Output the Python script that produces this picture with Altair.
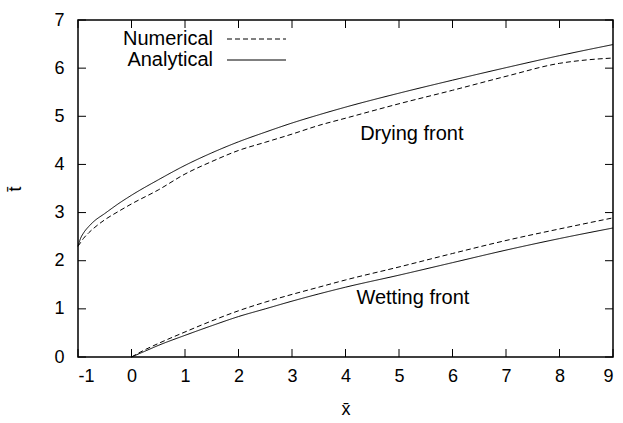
import altair as alt
import pandas as pd

# Drying front: analytical vs numerical
dry_x_ana = [-1, -0.95, -0.9, -0.8, -0.7, -0.5, -0.25, 0, 0.5, 1, 1.5, 2, 2.5, 3, 3.5, 4, 5, 6, 7, 8, 9]
dry_t_ana = [2.30, 2.47, 2.57, 2.71, 2.82, 2.98, 3.18, 3.36, 3.68, 3.98, 4.24, 4.47, 4.67, 4.86, 5.03, 5.19, 5.48, 5.75, 6.01, 6.26, 6.49]
dry_x_num = [-1, -0.95, -0.9, -0.8, -0.7, -0.5, -0.25, 0, 0.5, 1, 1.5, 2, 2.5, 3, 3.5, 4, 5, 6, 7, 8, 8.5, 9]
dry_t_num = [2.30, 2.38, 2.46, 2.58, 2.68, 2.85, 3.02, 3.18, 3.47, 3.80, 4.06, 4.29, 4.46, 4.63, 4.81, 4.96, 5.26, 5.54, 5.83, 6.10, 6.17, 6.21]

# Wetting front: analytical vs numerical
wet_x = [0, 0.25, 0.5, 1, 1.5, 2, 2.5, 3, 3.5, 4, 5, 6, 7, 8, 9]
wet_t_ana = [0, 0.12, 0.24, 0.45, 0.65, 0.84, 1.00, 1.16, 1.31, 1.45, 1.70, 1.96, 2.22, 2.46, 2.68]
wet_t_num = [0, 0.15, 0.28, 0.52, 0.75, 0.96, 1.14, 1.30, 1.45, 1.60, 1.87, 2.15, 2.42, 2.66, 2.89]

x_ticks = [-1, 0, 1, 2, 3, 4, 5, 6, 7, 8, 9]
y_ticks = [0, 1, 2, 3, 4, 5, 6, 7]

annotations = ["Drying front", "Wetting front"]
ann_x = [5.24, 5.26]
ann_t = [4.64, 1.22]

legend_labels = ["Numerical", "Analytical"]
legend_dash = [[5, 3], [1, 0]]

FONT = "Liberation Sans"
TICK_FS = 18
TEXT_FS = 20
W, H = 535, 337

rows = []
for x, t in zip(dry_x_ana, dry_t_ana):
    rows.append({"x": x, "t": t, "curve": "dry_ana", "kind": "Analytical"})
for x, t in zip(dry_x_num, dry_t_num):
    rows.append({"x": x, "t": t, "curve": "dry_num", "kind": "Numerical"})
for x, t in zip(wet_x, wet_t_ana):
    rows.append({"x": x, "t": t, "curve": "wet_ana", "kind": "Analytical"})
for x, t in zip(wet_x, wet_t_num):
    rows.append({"x": x, "t": t, "curve": "wet_num", "kind": "Numerical"})
df = pd.DataFrame(rows)

xs = alt.Scale(domain=[-1, 9], nice=False, zero=False)
ys = alt.Scale(domain=[0, 7], nice=False, zero=False)

x_enc = alt.X("x:Q", scale=xs, axis=alt.Axis(
    values=x_ticks, ticks=False, domain=False, grid=False, labelFontSize=TICK_FS,
    labelFont=FONT, labelColor="black", labelPadding=10,
    labelExpr="'' + datum.value",
    title="x̄", titleFont=FONT, titleFontSize=TICK_FS, titleFontWeight="normal",
    titleColor="black", titlePadding=15))
y_enc = alt.Y("t:Q", scale=ys, axis=alt.Axis(
    values=y_ticks, ticks=False, domain=False, grid=False, labelFontSize=TICK_FS,
    labelFont=FONT, labelColor="black", labelPadding=14,
    labelExpr="'' + datum.value",
    title="t̄", titleFont=FONT, titleFontSize=TICK_FS, titleFontWeight="normal",
    titleColor="black", titlePadding=29))

lines = alt.Chart(df).mark_line(color="black", strokeWidth=1, interpolate="monotone").encode(
    x=x_enc, y=y_enc,
    detail="curve:N",
    strokeDash=alt.StrokeDash("kind:N",
                              scale=alt.Scale(domain=legend_labels, range=legend_dash),
                              legend=None),
)

# inward ticks on all four sides
xt = pd.DataFrame({"x": x_ticks})
yt = pd.DataFrame({"t": y_ticks})
tick_style = dict(color="black", strokeWidth=1)
ticks_bottom = alt.Chart(xt).mark_rule(**tick_style).encode(
    x=alt.X("x:Q", scale=xs), y=alt.value(H), y2=alt.value(H - 8))
ticks_top = alt.Chart(xt).mark_rule(**tick_style).encode(
    x=alt.X("x:Q", scale=xs), y=alt.value(0), y2=alt.value(8))
ticks_left = alt.Chart(yt).mark_rule(**tick_style).encode(
    y=alt.Y("t:Q", scale=ys), x=alt.value(0), x2=alt.value(8))
ticks_right = alt.Chart(yt).mark_rule(**tick_style).encode(
    y=alt.Y("t:Q", scale=ys), x=alt.value(W), x2=alt.value(W - 8))

ann = alt.Chart(pd.DataFrame({"label": annotations, "x": ann_x, "t": ann_t})).mark_text(
    font=FONT, fontSize=TEXT_FS, color="black", align="center", baseline="middle"
).encode(x=alt.X("x:Q", scale=xs), y=alt.Y("t:Q", scale=ys), text="label:N")

# key in the upper-left corner: label, then line sample
leg_text_num = alt.Chart(pd.DataFrame({"label": [legend_labels[0]]})).mark_text(
    font=FONT, fontSize=TEXT_FS, color="black", align="right", baseline="middle"
).encode(x=alt.value(135), y=alt.value(19), text="label:N")
leg_text_ana = alt.Chart(pd.DataFrame({"label": [legend_labels[1]]})).mark_text(
    font=FONT, fontSize=TEXT_FS, color="black", align="right", baseline="middle"
).encode(x=alt.value(135), y=alt.value(40), text="label:N")
leg_line_num = alt.Chart(pd.DataFrame({"k": [0]})).mark_rule(
    color="black", strokeWidth=1, strokeDash=legend_dash[0]
).encode(x=alt.value(149), x2=alt.value(208), y=alt.value(19))
leg_line_ana = alt.Chart(pd.DataFrame({"k": [0]})).mark_rule(
    color="black", strokeWidth=1
).encode(x=alt.value(149), x2=alt.value(208), y=alt.value(40))

chart = alt.layer(
    lines, ticks_bottom, ticks_top, ticks_left, ticks_right, ann,
    leg_text_num, leg_text_ana, leg_line_num, leg_line_ana
).properties(
    width=W, height=H,
    autosize=alt.AutoSizeParams(type="none"),
    padding={"left": 78, "top": 20, "right": 10, "bottom": 66},
    background="white",
).configure_view(stroke="black", strokeWidth=1.5)

chart.save("out.html", embed_options={"renderer": "svg", "actions": False})
